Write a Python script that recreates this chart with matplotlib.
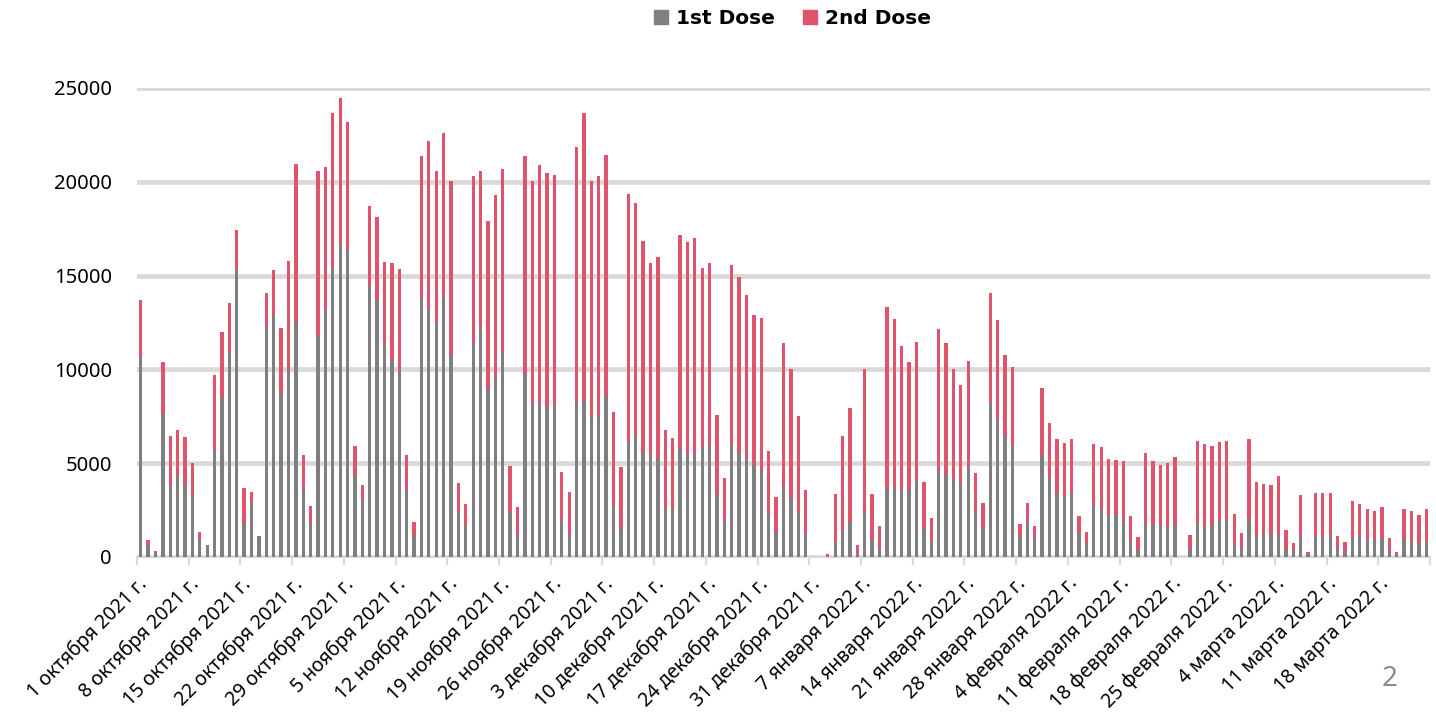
### STACKED DAILY VACCINATION BARS (1ST / 2ND DOSE)
import numpy as np
import matplotlib
matplotlib.use('Agg')
import matplotlib.pyplot as plt
from matplotlib.patches import Patch

### DATA ###
# daily doses from 1 Oct 2021 to 24 Mar 2022 (175 days)
dose1 = [10660, 660, 250, 7620, 3860, 4340, 3840, 3250, 910, 570,
         5700, 8510, 10960, 15280, 1810, 2930, 1050, 12280, 12850, 8760,
         9970, 12530, 3550, 1800, 11780, 13170, 15440, 16720, 16420, 4320,
         3020, 14430, 13720, 11390, 10480, 9930, 3550, 1170, 13750, 13220,
         12490, 13930, 10790, 2360, 1640, 11410, 12240, 8920, 9580, 10930,
         2400, 1120, 9760, 8210, 8160, 7980, 8100, 1900, 1160, 8260,
         8330, 7460, 7590, 8570, 2720, 1490, 6200, 6500, 5580, 5440,
         5240, 2630, 2560, 5760, 5490, 5490, 5850, 5950, 3290, 1940,
         6010, 5620, 5210, 4890, 4570, 2240, 1330, 3750, 3150, 2360,
         1230, 0, 0, 0, 780, 1390, 1870, 120, 2450, 890,
         430, 3630, 3750, 3630, 3640, 4030, 1510, 850, 4590, 4350,
         4160, 3950, 4820, 2430, 1530, 8210, 7290, 6450, 5970, 1140,
         1900, 1050, 5420, 4230, 3430, 3270, 3450, 1280, 730, 2750,
         2540, 2200, 2240, 2010, 840, 360, 1850, 1710, 1690, 1620,
         1760, 0, 430, 1760, 1620, 1760, 1900, 1970, 640, 440,
         2010, 1120, 1170, 1230, 1240, 480, 300, 1070, 140, 1120,
         1080, 1170, 430, 340, 1000, 1120, 910, 890, 1010, 300,
         110, 960, 850, 750, 780]
dose2 = [3020, 270, 50, 2770, 2590, 2430, 2540, 1780, 440, 50,
         4000, 3500, 2560, 2170, 1870, 530, 90, 1810, 2430, 3450,
         5830, 8440, 1900, 940, 8810, 7640, 8250, 7770, 6750, 1600,
         820, 4280, 4420, 4340, 5190, 5440, 1880, 690, 7620, 8960,
         8090, 8690, 9260, 1580, 1210, 8920, 8350, 8970, 9690, 9760,
         2430, 1560, 11620, 11850, 12740, 12470, 12260, 2630, 2280, 13610,
         15340, 12570, 12720, 12870, 5030, 3310, 13170, 12370, 11250, 10230,
         10770, 4120, 3780, 11390, 11300, 11500, 9580, 9720, 4280, 2260,
         9540, 9290, 8740, 8010, 8190, 3430, 1880, 7660, 6860, 5140,
         2330, 0, 0, 180, 2600, 5080, 6080, 540, 7570, 2490,
         1210, 9690, 8920, 7600, 6770, 7430, 2470, 1250, 7570, 7070,
         5860, 5220, 5630, 2040, 1330, 5880, 5350, 4320, 4180, 620,
         960, 600, 3610, 2900, 2880, 2790, 2840, 890, 590, 3270,
         3320, 3040, 2930, 3130, 1330, 710, 3680, 3410, 3200, 3410,
         3590, 0, 760, 4440, 4390, 4180, 4250, 4230, 1670, 820,
         4300, 2900, 2740, 2630, 3090, 980, 460, 2240, 130, 2290,
         2330, 2240, 710, 460, 1990, 1720, 1670, 1580, 1670, 710,
         180, 1620, 1580, 1510, 1800]

# weekly tick labels
tick_labels = ['1 октября 2021 г.', '8 октября 2021 г.', '15 октября 2021 г.',
               '22 октября 2021 г.', '29 октября 2021 г.', '5 ноября 2021 г.',
               '12 ноября 2021 г.', '19 ноября 2021 г.', '26 ноября 2021 г.',
               '3 декабря 2021 г.', '10 декабря 2021 г.', '17 декабря 2021 г.',
               '24 декабря 2021 г.', '31 декабря 2021 г.', '7 января 2022 г.',
               '14 января 2022 г.', '21 января 2022 г.', '28 января 2022 г.',
               '4 февраля 2022 г.', '11 февраля 2022 г.', '18 февраля 2022 г.',
               '25 февраля 2022 г.', '4 марта 2022 г.', '11 марта 2022 г.',
               '18 марта 2022 г.']

### STYLE ###
plt.rcParams['font.family'] = ['Noto Sans', 'DejaVu Sans']
gray = '#7f7f7f'
red = '#e0546b'
grid_col = '#d9d9d9'

### PLOT ###
fig = plt.figure(figsize=(14.36, 7.26), dpi=100)
ax = fig.add_axes([0.0954, 0.2328, 0.9004, 0.646])

x = np.arange(len(dose1))
ax.bar(x, dose1, width=0.45, color=gray, zorder=3)
ax.bar(x, dose2, width=0.45, bottom=dose1, color=red, zorder=3)

ax.set_xlim(-0.5, len(dose1) - 0.5)
ax.set_ylim(0, 25000)
ax.set_yticks(np.arange(0, 25001, 5000))
ax.yaxis.grid(True, color=grid_col, linewidth=3.4, zorder=0)
ax.set_axisbelow(True)

# ticks sit on category boundaries, one per week
ticks = list(np.arange(0, len(dose1), 7) - 0.5) + [len(dose1) - 0.5]
ax.set_xticks(ticks)
ax.set_xticklabels(tick_labels + [''], rotation=45, ha='right',
                   rotation_mode='anchor', fontsize=14)
ax.tick_params(axis='x', length=6, width=1.5, color=grid_col, pad=6)
ax.tick_params(axis='y', length=0, pad=18, labelsize=14.5)

for side in ['top', 'right', 'left']:
    ax.spines[side].set_visible(False)
ax.spines['bottom'].set_color(grid_col)
ax.spines['bottom'].set_linewidth(1.5)

handles = [Patch(color=gray, label='1st Dose'), Patch(color=red, label='2nd Dose')]
fig.legend(handles=handles, loc='upper center', bbox_to_anchor=(0.552, 1.012),
           ncol=2, frameon=False, handlelength=0.7, handleheight=0.7,
           handletextpad=0.4, columnspacing=1.4,
           prop={'family': 'DejaVu Sans', 'weight': 'bold', 'size': 14.5})

fig.text(0.968, 0.055, '2', fontsize=20, color='#8c8c8c', ha='center')

fig.savefig('out.png', dpi=100)
